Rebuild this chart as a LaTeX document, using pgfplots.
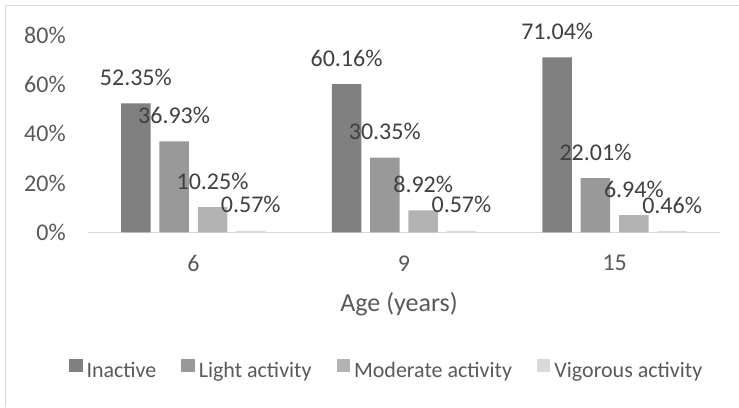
\documentclass[border=0pt]{standalone}
\usepackage{pgfplots}
\pgfplotsset{compat=1.18}
\usepackage{fontspec}
\setmainfont{Carlito}
\definecolor{cInactive}{RGB}{128,128,128}
\definecolor{cLight}{RGB}{153,153,153}
\definecolor{cModerate}{RGB}{179,179,179}
\definecolor{cVigorous}{RGB}{217,217,217}
\definecolor{gridgray}{RGB}{217,217,217}
\definecolor{txt}{RGB}{89,89,89}
\definecolor{lbl}{RGB}{64,64,64}
\begin{document}
\begin{tikzpicture}
\path[use as bounding box] (0,0) rectangle (554.25pt,-305.25pt);
\draw[gridgray, line width=1.1pt] (4.3pt,-305.25pt) -- (4.3pt,-4.3pt) -- (554.25pt,-4.3pt);
\begin{axis}[
  at={(66pt,-174.2pt)}, anchor=south west,
  scale only axis, width=474pt, height=147.8pt,
  xmin=-0.5, xmax=2.5, ymin=0, ymax=80,
  axis lines*=left,
  x axis line style={draw=gridgray, line width=1.1pt},
  y axis line style={draw=none},
  xtick={0,1,2}, xticklabels={6,9,15},
  ytick={0,20,40,60,80},
  yticklabel={\pgfmathprintnumber{\tick}\%},
  major tick length=0pt,
  tick style={draw=none},
  /pgf/number format/assume math mode=true,
  ticklabel style={font=\fontsize{18}{21.6}\selectfont, text=txt, inner sep=0pt},
  yticklabel style={anchor=east, xshift=-16.5pt},
  xticklabel style={anchor=north, yshift=-17.25pt},
  ybar, bar width=22.1pt,
  clip=false,
  nodes near coords={\pgfmathprintnumber[fixed,fixed zerofill,precision=2]{\pgfplotspointmeta}\%},
  every node near coord/.append style={font=\fontsize{18}{21.6}\selectfont, text=lbl, anchor=base, inner sep=0pt, yshift=13.5pt},
  legend columns=4,
  legend style={at={(-0.030,-0.695)}, anchor=west, draw=none, fill=none,
    font=\fontsize{16.5}{19.8}\selectfont, text=txt, inner sep=0pt, outer sep=0pt,
    nodes={inner sep=0pt},
    /tikz/every even column/.append style={column sep=18.75pt},
    /tikz/every odd column/.append style={column sep=3pt}},
  legend image code/.code={\fill[#1] (0pt,-0.75pt) rectangle (10.1pt,9.4pt);},
]
\addplot[fill=cInactive, draw=none, bar shift=-43.1pt] coordinates {(0,52.35) (1,60.16) (2,71.04)};
\addplot[fill=cLight, draw=none, bar shift=-14.4pt] coordinates {(0,36.93) (1,30.35) (2,22.01)};
\addplot[fill=cModerate, draw=none, bar shift=14.4pt] coordinates {(0,10.25) (1,8.92) (2,6.94)};
\addplot[fill=cVigorous, draw=none, bar shift=43.1pt] coordinates {(0,0.57) (1,0.57) (2,0.46)};
\legend{Inactive, Light activity, Moderate activity, Vigorous activity}
\end{axis}
\node[font=\fontsize{19.5}{23.4}\selectfont, text=txt, anchor=base] at (299.25pt,-233.8pt) {Age (years)};
\end{tikzpicture}
\end{document}
